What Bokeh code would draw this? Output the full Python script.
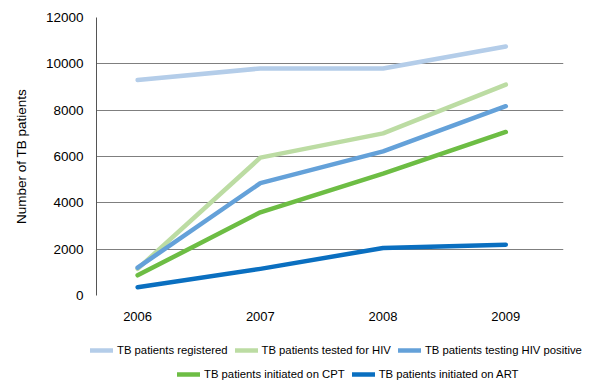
from bokeh.plotting import figure
from bokeh.models import Range1d, Legend, LegendItem, FixedTicker
from bokeh.layouts import column
from bokeh.embed import file_html
from bokeh.resources import INLINE

years = [2006, 2007, 2008, 2009]
registered = [9300, 9800, 9800, 10750]
tested_hiv = [1150, 5950, 7000, 9100]
hiv_positive = [1200, 4850, 6220, 8170]
initiated_cpt = [870, 3590, 5260, 7060]
initiated_art = [360, 1150, 2050, 2190]

series_names = [
    "TB patients registered",
    "TB patients tested for HIV",
    "TB patients testing HIV positive",
    "TB patients initiated on CPT",
    "TB patients initiated on ART",
]
series_values = [registered, tested_hiv, hiv_positive, initiated_cpt, initiated_art]
colors = ["#b4cde9", "#bcdca3", "#64a1d9", "#6dbd44", "#0a6fc0"]
y_ticks = [0, 2000, 4000, 6000, 8000, 10000, 12000]

FONT = "Liberation Sans"

p = figure(width=590, height=330, output_backend="svg", toolbar_location=None,
           x_range=Range1d(2005.665, 2009.47), y_range=Range1d(0, 12000),
           min_border_left=96, min_border_right=27, min_border_top=17,
           min_border_bottom=35)
p.outline_line_color = None
p.background_fill_color = "white"
p.border_fill_color = "white"

for name, vals, col in zip(series_names, series_values, colors):
    p.line(years, vals, line_color=col, line_width=4.5, line_cap="round", line_join="round")

# axes
p.xaxis.ticker = FixedTicker(ticks=years)
p.xaxis.axis_line_color = None
p.xaxis.major_tick_line_color = None
p.xaxis.major_tick_out = 0
p.xaxis.major_tick_in = 0
p.xaxis.minor_tick_line_color = None
p.xaxis.major_label_standoff = 16
p.xaxis.major_label_text_font = FONT
p.xaxis.major_label_text_font_size = "13px"
p.xaxis.major_label_text_color = "#000000"

p.yaxis.ticker = FixedTicker(ticks=y_ticks)
p.yaxis.axis_line_color = "#555555"
p.yaxis.major_tick_line_color = None
p.yaxis.major_tick_out = 0
p.yaxis.major_tick_in = 0
p.yaxis.minor_tick_line_color = None
p.yaxis.major_label_standoff = 13
p.yaxis.major_label_text_font = FONT
p.yaxis.major_label_text_font_size = "13.5px"
p.yaxis.major_label_text_color = "#000000"
p.yaxis.axis_label = "Number of TB patients"
p.yaxis.axis_label_text_font = FONT
p.yaxis.axis_label_text_font_size = "13.5px"
p.yaxis.axis_label_text_font_style = "normal"
p.yaxis.axis_label_standoff = 14
p.yaxis.axis_label_text_color = "#000000"

p.xgrid.grid_line_color = None
p.ygrid.ticker = FixedTicker(ticks=y_ticks)
p.ygrid.grid_line_color = "#7f7f7f"
p.ygrid.grid_line_width = 1

# legend strip below the chart
lg = figure(width=590, height=51, output_backend="svg", toolbar_location=None,
            x_range=Range1d(0, 1), y_range=Range1d(0, 1),
            min_border=0, min_border_left=0, min_border_right=0,
            min_border_top=0, min_border_bottom=0, frame_align=False)
lg.outline_line_color = None
lg.xaxis.visible = False
lg.yaxis.visible = False
lg.grid.visible = False

nan = float("nan")
swatches = [lg.line([nan], [nan], line_color=col, line_width=4.5, line_cap="round")
            for col in colors]

def make_legend(items, loc):
    return Legend(items=items, location=loc, orientation="horizontal",
                  label_text_font=FONT, label_text_font_size="11.3px",
                  label_text_color="#000000",
                  glyph_width=23, glyph_height=14, label_height=14,
                  label_standoff=4, spacing=7, padding=0, margin=0,
                  border_line_color=None, background_fill_alpha=0)

items1 = [LegendItem(label=series_names[i], renderers=[swatches[i]]) for i in range(3)]
items2 = [LegendItem(label=series_names[i], renderers=[swatches[i]]) for i in range(3, 5)]
lg.add_layout(make_legend(items1, (90, 24)), "center")
lg.add_layout(make_legend(items2, (177, 0)), "center")

layout = column(p, lg, spacing=0)
open("out.html", "w").write(file_html(layout, INLINE))
